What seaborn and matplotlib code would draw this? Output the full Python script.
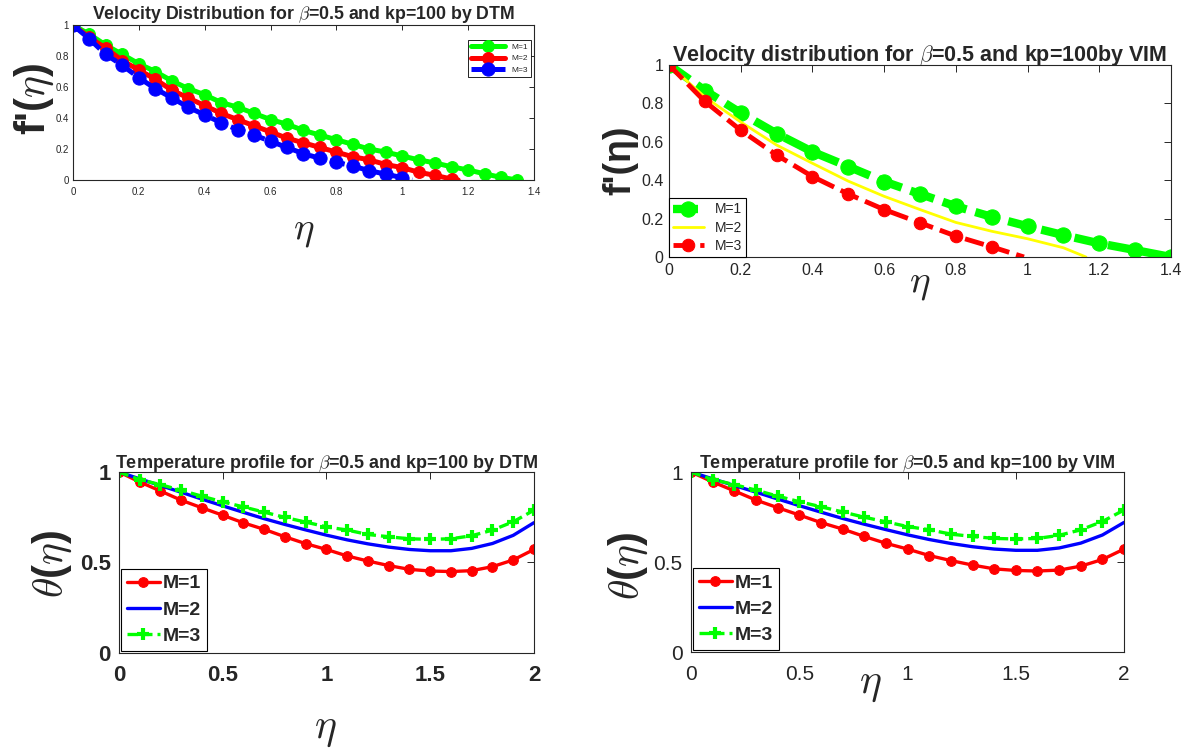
import numpy as np
import pandas as pd
import matplotlib
matplotlib.use("Agg")
import matplotlib.pyplot as plt
import seaborn as sns

# ---------------- data ----------------
# Panel 1: velocity, DTM
dtm_v_m1_x = [0.00, 0.05, 0.10, 0.15, 0.20, 0.25, 0.30, 0.35, 0.40, 0.45, 0.50, 0.55, 0.60, 0.65,
              0.70, 0.75, 0.80, 0.85, 0.90, 0.95, 1.00, 1.05, 1.10, 1.15, 1.20, 1.25, 1.30, 1.35]
dtm_v_m1_y = [1.00, 0.94, 0.87, 0.81, 0.75, 0.70, 0.64, 0.59, 0.55, 0.50, 0.47, 0.43, 0.39, 0.36,
              0.32, 0.29, 0.26, 0.23, 0.20, 0.18, 0.155, 0.13, 0.11, 0.085, 0.065, 0.04, 0.017, 0.00]
dtm_v_m2_x = [0.00, 0.05, 0.10, 0.15, 0.20, 0.25, 0.30, 0.35, 0.40, 0.45, 0.50, 0.55, 0.60, 0.65,
              0.70, 0.75, 0.80, 0.85, 0.90, 0.95, 1.00, 1.05, 1.10, 1.15, 1.17]
dtm_v_m2_y = [1.00, 0.92, 0.85, 0.77, 0.71, 0.65, 0.58, 0.53, 0.48, 0.43, 0.39, 0.35, 0.31, 0.27,
              0.24, 0.21, 0.18, 0.15, 0.13, 0.10, 0.08, 0.05, 0.03, 0.006, 0.00]
dtm_v_m3_x = [0.00, 0.05, 0.10, 0.15, 0.20, 0.25, 0.30, 0.35, 0.40, 0.45, 0.50, 0.55, 0.60, 0.65,
              0.70, 0.75, 0.80, 0.85, 0.90, 0.95, 1.00, 1.03]
dtm_v_m3_y = [1.00, 0.91, 0.81, 0.74, 0.66, 0.59, 0.53, 0.47, 0.42, 0.37, 0.325, 0.29, 0.25, 0.21,
              0.17, 0.14, 0.115, 0.09, 0.06, 0.038, 0.015, 0.00]

# Panel 2: velocity, VIM
vim_v_m1_x = [0.0, 0.1, 0.2, 0.3, 0.4, 0.5, 0.6, 0.7, 0.8, 0.9, 1.0, 1.1, 1.2, 1.3, 1.4]
vim_v_m1_y = [1.00, 0.867, 0.75, 0.643, 0.548, 0.471, 0.393, 0.328, 0.264, 0.209, 0.16, 0.114,
              0.071, 0.036, 0.00]
vim_v_m2_x = [0.0, 0.1, 0.2, 0.3, 0.4, 0.5, 0.6, 0.7, 0.8, 0.9, 1.0, 1.1, 1.163]
vim_v_m2_y = [1.00, 0.833, 0.703, 0.583, 0.488, 0.395, 0.316, 0.247, 0.18, 0.134, 0.095, 0.048, 0.00]
vim_v_m3_x = [0.0, 0.1, 0.2, 0.3, 0.4, 0.5, 0.6, 0.7, 0.8, 0.9, 0.99]
vim_v_m3_y = [1.00, 0.81, 0.66, 0.531, 0.419, 0.328, 0.247, 0.178, 0.109, 0.053, 0.00]

# Panels 3 & 4: temperature (DTM / VIM)
temp_x = [0.0, 0.1, 0.2, 0.3, 0.4, 0.5, 0.6, 0.7, 0.8, 0.9, 1.0,
          1.1, 1.2, 1.3, 1.4, 1.5, 1.6, 1.7, 1.8, 1.9, 2.0]
temp_m1 = [1.00, 0.945, 0.895, 0.844, 0.802, 0.761, 0.719, 0.683, 0.642, 0.604, 0.572,
           0.536, 0.508, 0.483, 0.462, 0.453, 0.450, 0.455, 0.477, 0.514, 0.572]
temp_m2 = [1.00, 0.962, 0.925, 0.888, 0.850, 0.813, 0.777, 0.742, 0.710, 0.680, 0.651,
           0.625, 0.603, 0.585, 0.572, 0.565, 0.565, 0.578, 0.605, 0.650, 0.720]
temp_m3 = [1.00, 0.958, 0.930, 0.899, 0.866, 0.835, 0.807, 0.778, 0.749, 0.723, 0.697,
           0.679, 0.655, 0.642, 0.631, 0.628, 0.631, 0.648, 0.679, 0.725, 0.789]

labels = ["M=1", "M=2", "M=3"]
vel_ticks = [0, 0.2, 0.4, 0.6, 0.8, 1, 1.2, 1.4]
vel_yticks = [0, 0.2, 0.4, 0.6, 0.8, 1]
temp_xticks = [0, 0.5, 1, 1.5, 2]
temp_yticks = [0, 0.5, 1]

# ---------------- style ----------------
sns.set_theme(style="white")
plt.rcParams["font.family"] = ["Liberation Sans", "DejaVu Sans"]
plt.rcParams["mathtext.fontset"] = "cm"
plt.rcParams["axes.edgecolor"] = "#262626"
plt.rcParams["axes.linewidth"] = 0.8

fig = plt.figure(figsize=(11.9, 7.51), dpi=100)
ax1 = fig.add_axes([0.0613, 0.7603, 0.3874, 0.2064])
ax2 = fig.add_axes([0.5622, 0.6578, 0.4218, 0.2557])
ax3 = fig.add_axes([0.1000, 0.1305, 0.3487, 0.2410])
ax4 = fig.add_axes([0.5807, 0.1318, 0.3639, 0.2397])

GREEN, RED, BLUE, YELLOW = "#00ff00", "#ff0000", "#0000ff", "#ffff00"


def style_axes(ax, xt, yt, xlim, ylim, fs, bold=False, xpad=2, ypad=2, tl=4):
    ax.set_xlim(*xlim)
    ax.set_ylim(*ylim)
    ax.set_xticks(xt)
    ax.set_yticks(yt)
    ax.set_xticklabels([f"{v:g}" for v in xt])
    ax.set_yticklabels([f"{v:g}" for v in yt])
    ax.tick_params(direction="in", top=True, right=True, length=tl, width=0.7,
                   labelsize=fs, colors="#262626")
    ax.tick_params(axis="x", pad=xpad)
    ax.tick_params(axis="y", pad=ypad)
    for lab in ax.get_xticklabels() + ax.get_yticklabels():
        lab.set_fontweight("bold" if bold else "normal")
        lab.set_color("#262626")
    for s in ax.spines.values():
        s.set_visible(True)
        s.set_color("#262626")
        s.set_linewidth(0.8)


def line(ax, x, y, color, label, **kw):
    sns.lineplot(x=x, y=y, ax=ax, color=color, label=label, errorbar=None,
                 sort=False, **kw)


def labels_at(ax, xl, yl, xc, yc, xfs, yfs, yweight="normal", xweight="normal"):
    ax.set_ylabel(yl, fontsize=yfs, fontweight=yweight, va="center", ha="center")
    ax.yaxis.set_label_coords(*yc)
    ax.set_xlabel(xl, fontsize=xfs, fontweight=xweight, va="center", ha="center")
    ax.xaxis.set_label_coords(*xc)


# ---- Panel 1 ----
line(ax1, dtm_v_m1_x, dtm_v_m1_y, GREEN, labels[0], lw=3.6, marker="o", ms=8.5,
     mec=GREEN)
line(ax1, dtm_v_m2_x, dtm_v_m2_y, RED, labels[1], lw=3.6, marker="o", ms=8.5,
     mec=RED, markevery=slice(0, len(dtm_v_m2_x) - 1))
line(ax1, dtm_v_m3_x, dtm_v_m3_y, BLUE, labels[2], lw=3.6, marker="o", ms=9.5,
     mec=BLUE, linestyle=(0, (3, 1.2)), markevery=slice(0, len(dtm_v_m3_x) - 1))
style_axes(ax1, vel_ticks, vel_yticks, (0, 1.4), (0, 1), 7, xpad=5, ypad=3, tl=3.5)
ax1.set_title(r"Velocity Distribution for $\beta$=0.5 and kp=100 by DTM",
              fontsize=12.8, fontweight="bold", pad=4)
labels_at(ax1, r"$\eta$", r"f'($\eta$)", (0.5, -0.33), (-0.083, 0.52), 28, 30,
          yweight="bold")
ax1.legend(loc="upper right", bbox_to_anchor=(0.994, 0.905), borderaxespad=0,
           fontsize=6, frameon=True, fancybox=False, edgecolor="black",
           framealpha=1, handlelength=4, labelspacing=0.45).get_frame().set_linewidth(0.6)

# ---- Panel 2 ----
line(ax2, vim_v_m1_x, vim_v_m1_y, GREEN, labels[0], lw=6, marker="o", ms=11,
     mec=GREEN, linestyle=(0, (3, 1.1)))
line(ax2, vim_v_m2_x, vim_v_m2_y, YELLOW, labels[1], lw=2)
line(ax2, vim_v_m3_x, vim_v_m3_y, RED, labels[2], lw=3.5, marker="o", ms=9,
     mec=RED, linestyle=(0, (4, 1.5)), markevery=slice(0, len(vim_v_m3_x) - 1))
style_axes(ax2, vel_ticks, vel_yticks, (0, 1.4), (0, 1), 11.5, xpad=4, ypad=4, tl=5)
ax2.set_title(r"Velocity distribution for $\beta$=0.5 and kp=100by VIM",
              fontsize=15.5, fontweight="bold", pad=3)
labels_at(ax2, r"$\eta$", "f'(η)", (0.5, -0.14), (-0.097, 0.505), 28, 27,
          yweight="bold")
ax2.legend(loc="lower left", fontsize=10, frameon=True, fancybox=False,
           edgecolor="black", framealpha=1, handlelength=2.2, borderaxespad=0,
           labelspacing=0.3, borderpad=0.3).get_frame().set_linewidth(0.8)

# ---- Panels 3 & 4 ----
for ax, bold, title, ylc, xlc in [
        (ax3, True, r"Temperature profile for $\beta$=0.5 and kp=100 by DTM",
         (-0.16, 0.49), (0.497, -0.42)),
        (ax4, False, r"Temperature profile for $\beta$=0.5 and kp=100 by VIM",
         (-0.145, 0.48), (0.415, -0.175))]:
    line(ax, temp_x, temp_m1, RED, labels[0], lw=2.4, marker="o", ms=7, mec=RED)
    line(ax, temp_x, temp_m2, BLUE, labels[1], lw=2.4)
    line(ax, temp_x, temp_m3, GREEN, labels[2], lw=2.4, marker="+", ms=9, mew=3,
         mec=GREEN, linestyle=(0, (3, 1.5)))
    style_axes(ax, temp_xticks, temp_yticks, (0, 2), (0, 1), 16 if bold else 15,
               bold=bold, xpad=9, ypad=6, tl=5)
    ax.set_title(title, fontsize=13, fontweight="bold", pad=3)
    labels_at(ax, r"$\eta$", r"$\theta$($\eta$)", xlc, ylc, 30, 30, yweight="bold")
    leg = ax.legend(loc="lower left", prop={"size": 14, "weight": "bold"},
                    frameon=True, fancybox=False, edgecolor="black", framealpha=1,
                    handlelength=1.7, borderaxespad=0.1, labelspacing=0.45,
                    borderpad=0.3, handletextpad=0.15)
    leg.get_frame().set_linewidth(0.8)

fig.savefig("out.png", dpi=100, facecolor="white")
